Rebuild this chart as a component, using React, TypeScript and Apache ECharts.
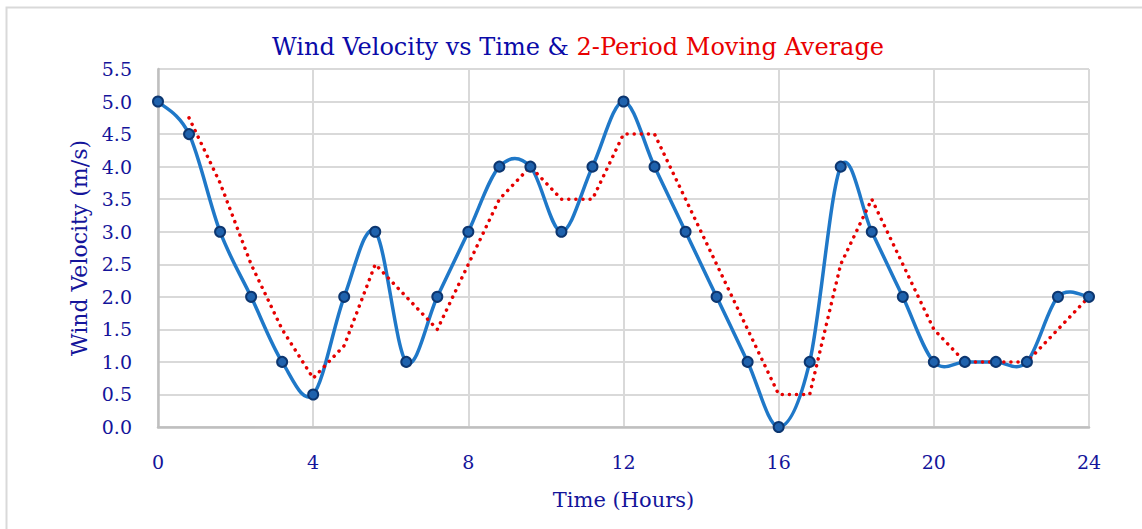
import React, { useEffect, useRef } from "react";
import * as echarts from "echarts";

const times = [0, 0.8, 1.6, 2.4, 3.2, 4, 4.8, 5.6, 6.4, 7.2, 8, 8.8, 9.6, 10.4, 11.2, 12, 12.8, 13.6, 14.4, 15.2, 16, 16.8, 17.6, 18.4, 19.2, 20, 20.8, 21.6, 22.4, 23.2, 24];
const velocity = [5, 4.5, 3, 2, 1, 0.5, 2, 3, 1, 2, 3, 4, 4, 3, 4, 5, 4, 3, 2, 1, 0, 1, 4, 3, 2, 1, 1, 1, 1, 2, 2];
const movingAvg = [null, 4.75, 3.75, 2.5, 1.5, 0.75, 1.25, 2.5, 2, 1.5, 2.5, 3.5, 4, 3.5, 3.5, 4.5, 4.5, 3.5, 2.5, 1.5, 0.5, 0.5, 2.5, 3.5, 2.5, 1.5, 1, 1, 1, 1.5, 2];

const FONT = "DejaVu Serif";
const NAVY = "#14149a";
const BLUE = "#1f78c8";

export default function App() {
  const ref = useRef<HTMLDivElement>(null);
  useEffect(() => {
    document.body.style.margin = "0";
    const chart = echarts.init(ref.current!, null, { renderer: "svg" });
    const velData = times.map((t, i) => [t, velocity[i]]);
    const segData = times.slice(0, -1).map((t, i) => [t, velocity[i]]);
    const maData = times
      .map((t, i) => [t, movingAvg[i]])
      .filter((d) => d[1] !== null);
    const n = times.length;
    const clamp = (j: number) => Math.max(0, Math.min(n - 1, j));
    chart.setOption({
      animation: false,
      backgroundColor: "#ffffff",
      graphic: [
        {
          type: "rect",
          shape: { x: 6.5, y: 7.5, width: 1160, height: 560 },
          style: { fill: "none", stroke: "#d9d9d9", lineWidth: 2 },
          silent: true,
        },
      ],
      title: {
        left: 573,
        top: 30,
        textAlign: "center",
        text: "{a|Wind Velocity vs Time & }{b|2-Period Moving Average}",
        textStyle: {
          rich: {
            a: { fontFamily: FONT, fontSize: 24, fontWeight: "normal", color: "#0a0aa8" },
            b: { fontFamily: FONT, fontSize: 24, fontWeight: "normal", color: "#e80000" },
          },
        },
      },
      grid: { left: 158, right: 53, top: 69, bottom: 102, containLabel: false },
      xAxis: {
        type: "value",
        min: 0,
        max: 24,
        interval: 4,
        name: "Time (Hours)",
        nameLocation: "middle",
        nameGap: 62,
        nameTextStyle: { fontFamily: FONT, fontSize: 21, color: NAVY },
        axisLine: { show: true, lineStyle: { color: "#bfbfbf", width: 2.5 } },
        axisTick: { show: false },
        axisLabel: { fontFamily: FONT, fontSize: 19, color: NAVY, margin: 25 },
        splitLine: { show: true, lineStyle: { color: "#d9d9d9", width: 2 } },
      },
      yAxis: {
        type: "value",
        min: 0,
        max: 5.5,
        interval: 0.5,
        name: "Wind Velocity (m/s)",
        nameLocation: "middle",
        nameGap: 64,
        nameTextStyle: { fontFamily: FONT, fontSize: 22, color: NAVY },
        axisLine: { show: true, lineStyle: { color: "#bfbfbf", width: 2.5 } },
        axisTick: { show: false },
        axisLabel: {
          fontFamily: FONT,
          fontSize: 19,
          color: NAVY,
          margin: 26,
          formatter: (v: number) => v.toFixed(1),
        },
        splitLine: { show: true, lineStyle: { color: "#d9d9d9", width: 2 } },
      },
      series: [
        {
          type: "custom",
          data: segData,
          encode: { x: 0, y: 1 },
          z: 3,
          renderItem: (params: any, api: any) => {
            const i = params.dataIndex;
            const P = (j: number) => {
              const k = clamp(j);
              return api.coord([times[k], velocity[k]]);
            };
            const p0 = P(i - 1);
            const p1 = P(i);
            const p2 = P(i + 1);
            const p3 = P(i + 2);
            const t = 1 / 6;
            return {
              type: "bezierCurve",
              shape: {
                x1: p1[0],
                y1: p1[1],
                x2: p2[0],
                y2: p2[1],
                cpx1: p1[0] + (p2[0] - p0[0]) * t,
                cpy1: p1[1] + (p2[1] - p0[1]) * t,
                cpx2: p2[0] - (p3[0] - p1[0]) * t,
                cpy2: p2[1] - (p3[1] - p1[1]) * t,
              },
              style: { stroke: BLUE, lineWidth: 3.5, fill: "none", lineCap: "round" },
            };
          },
        },
        {
          type: "line",
          data: maData,
          smooth: false,
          showSymbol: false,
          symbol: "none",
          lineStyle: { color: "#e60000", width: 3.5, type: [0.1, 7], cap: "round" },
          z: 4,
        },
        {
          type: "scatter",
          data: velData,
          symbol: "circle",
          symbolSize: 10,
          itemStyle: { color: "#1f62ad", borderColor: "#0c3670", borderWidth: 2, opacity: 1 },
          z: 5,
        },
      ],
    });
    return () => chart.dispose();
  }, []);
  return <div ref={ref} style={{ width: 1142, height: 529 }} />;
}
